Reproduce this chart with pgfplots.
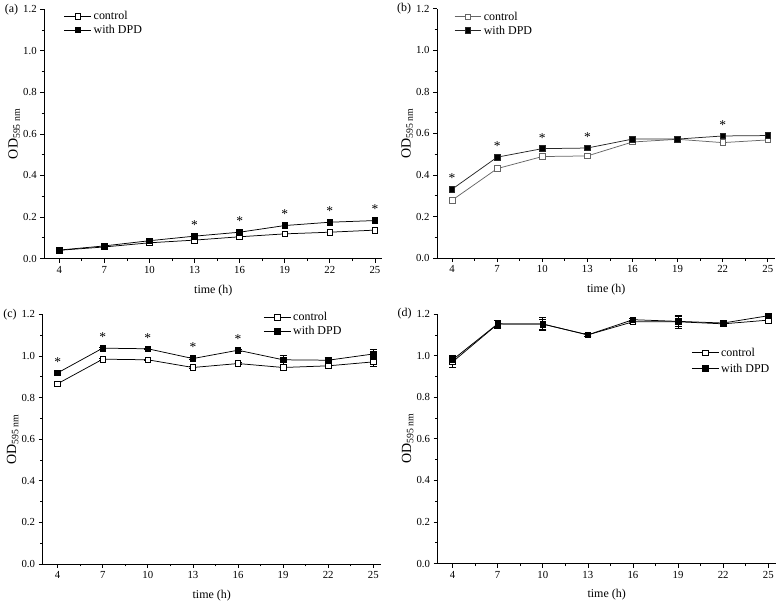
\documentclass[border=0pt]{standalone}
\usepackage{fontspec}
\setmainfont{Liberation Serif}
\usepackage{pgfplots}
\pgfplotsset{compat=1.18}
\pgfplotsset{
 panel/.style={
  width=339pt, height=250pt, scale only axis,
  axis lines*=left, axis line style={-, line width=0.8pt},
  xmin=3, xmax=25.5, ymin=0, ymax=1.2,
  xtick={4,7,10,13,16,19,22,25}, ytick={0,0.2,0.4,0.6,0.8,1.0,1.2},
  minor x tick num=1, minor y tick num=1,
  tick align=outside, major tick length=4pt, minor tick length=2.5pt,
  every tick/.style={line width=0.7pt, black},
  /pgf/number format/assume math mode=true,
  yticklabel style={/pgf/number format/.cd, fixed, fixed zerofill, precision=1},
  ticklabel style={font=\fontsize{10.8}{12}\selectfont},
  xlabel={time (h)}, ylabel={OD\textsubscript{595 nm}},
  xlabel style={font=\fontsize{12}{14}\selectfont, at={(axis description cs:0.5,-0.1264)}, anchor=center},
  ylabel style={font=\fontsize{14}{16}\selectfont, at={(axis description cs:-0.0885,0.5)}, anchor=center},
  legend style={draw=none, fill=none, font=\fontsize{12}{14}\selectfont, inner sep=0pt, anchor=north west},
  legend cell align=left,
  legend image code/.code={\draw[mark repeat=2,mark phase=2,##1] plot coordinates {(0pt,0pt) (13.5pt,0pt) (27pt,0pt)};},
  clip=false,
 },
 ctrl/.style={black, line width=0.75pt, mark=square*, mark size=2.8pt, mark options={fill=white, line width=0.7pt, solid}},
 dpd/.style={black, line width=0.75pt, mark=square*, mark size=2.8pt, mark options={fill=black, solid}},
 stars/.style={draw=none, mark=none, forget plot, nodes near coords={*}, nodes near coords style={anchor=center, yshift=11pt, font=\fontsize{13.5}{13.5}\selectfont}},
 ebar/.style={error bars/.cd, y dir=both, y explicit, error bar style={line width=0.7pt, solid}, error mark options={rotate=90, mark size=3.5pt, line width=0.7pt}},
}
\begin{document}
\begin{tikzpicture}
\path (0pt,0pt) rectangle (777pt,603pt);
% (a)
\begin{axis}[panel, at={(43.3pt,345.3pt)}, anchor=south west, legend style={at={(axis description cs:0.058,1.0)}}]
\addplot[ctrl] coordinates {(4,0.040) (7,0.056) (10,0.076) (13,0.089) (16,0.105) (19,0.119) (22,0.127) (25,0.137)};
\addplot[dpd] coordinates {(4,0.041) (7,0.061) (10,0.086) (13,0.108) (16,0.127) (19,0.159) (22,0.175) (25,0.183)};
\addplot[stars] coordinates {(13,0.108) (16,0.127) (19,0.159) (22,0.175) (25,0.183)};
\legend{control, with DPD}
\node[anchor=east, font=\fontsize{12}{14}\selectfont] at (rel axis cs:0,1) [xshift=-22.5pt] {(a)};
\end{axis}
% (b)
\begin{axis}[panel, at={(437pt,345.7pt)}, anchor=south west, legend style={at={(axis description cs:0.05,0.996)}}]
\addplot[ctrl, black!60] coordinates {(4,0.279) (7,0.431) (10,0.489) (13,0.492) (16,0.559) (19,0.572) (22,0.556) (25,0.569)};
\addplot[dpd, black!85] coordinates {(4,0.332) (7,0.486) (10,0.527) (13,0.530) (16,0.573) (19,0.573) (22,0.588) (25,0.590)};
\addplot[stars] coordinates {(4,0.332) (7,0.486) (10,0.527) (13,0.530) (22,0.588)};
\legend{control, with DPD}
\node[anchor=east, font=\fontsize{12}{14}\selectfont] at (rel axis cs:0,1) [xshift=-22.5pt] {(b)};
\end{axis}
% (c)
\begin{axis}[panel, at={(41.7pt,39.3pt)}, anchor=south west, legend style={at={(axis description cs:0.89,1.017)}, anchor=north east}]
\addplot[ctrl, ebar] coordinates {(4,0.867) +- (0,0.006) (7,0.985) +- (0,0.006) (10,0.982) +- (0,0.004) (13,0.945) +- (0,0.004) (16,0.964) +- (0,0.006) (19,0.945) +- (0,0.010) (22,0.953) +- (0,0.006) (25,0.972) +- (0,0.020)};
\addplot[dpd, ebar] coordinates {(4,0.919) +- (0,0.004) (7,1.038) +- (0,0.004) (10,1.035) +- (0,0.004) (13,0.988) +- (0,0.004) (16,1.028) +- (0,0.004) (19,0.982) +- (0,0.020) (22,0.980) +- (0,0.015) (25,1.010) +- (0,0.020)};
\addplot[stars] coordinates {(4,0.919) (7,1.038) (10,1.035) (13,0.988) (16,1.028)};
\legend{control, with DPD}
\node[anchor=east, font=\fontsize{12}{14}\selectfont] at (rel axis cs:0,1) [xshift=-22.5pt] {(c)};
\end{axis}
% (d)
\begin{axis}[panel, at={(437.5pt,39.7pt)}, anchor=south west, legend style={at={(axis description cs:0.75,0.873)}, row sep=2pt}]
\addplot[ctrl, ebar] coordinates {(4,0.970) +- (0,0.025) (7,1.152) +- (0,0.020) (10,1.152) +- (0,0.030) (13,1.100) +- (0,0.008) (16,1.163) +- (0,0.008) (19,1.163) +- (0,0.030) (22,1.153) +- (0,0.008) (25,1.171) +- (0,0.008)};
\addplot[dpd, ebar] coordinates {(4,0.980) +- (0,0.020) (7,1.153) +- (0,0.015) (10,1.152) +- (0,0.025) (13,1.100) +- (0,0.008) (16,1.173) +- (0,0.008) (19,1.165) +- (0,0.025) (22,1.157) +- (0,0.008) (25,1.192) +- (0,0.008)};
\legend{control, with DPD}
\node[anchor=east, font=\fontsize{12}{14}\selectfont] at (rel axis cs:0,1) [xshift=-22.5pt] {(d)};
\end{axis}
\end{tikzpicture}
\end{document}
